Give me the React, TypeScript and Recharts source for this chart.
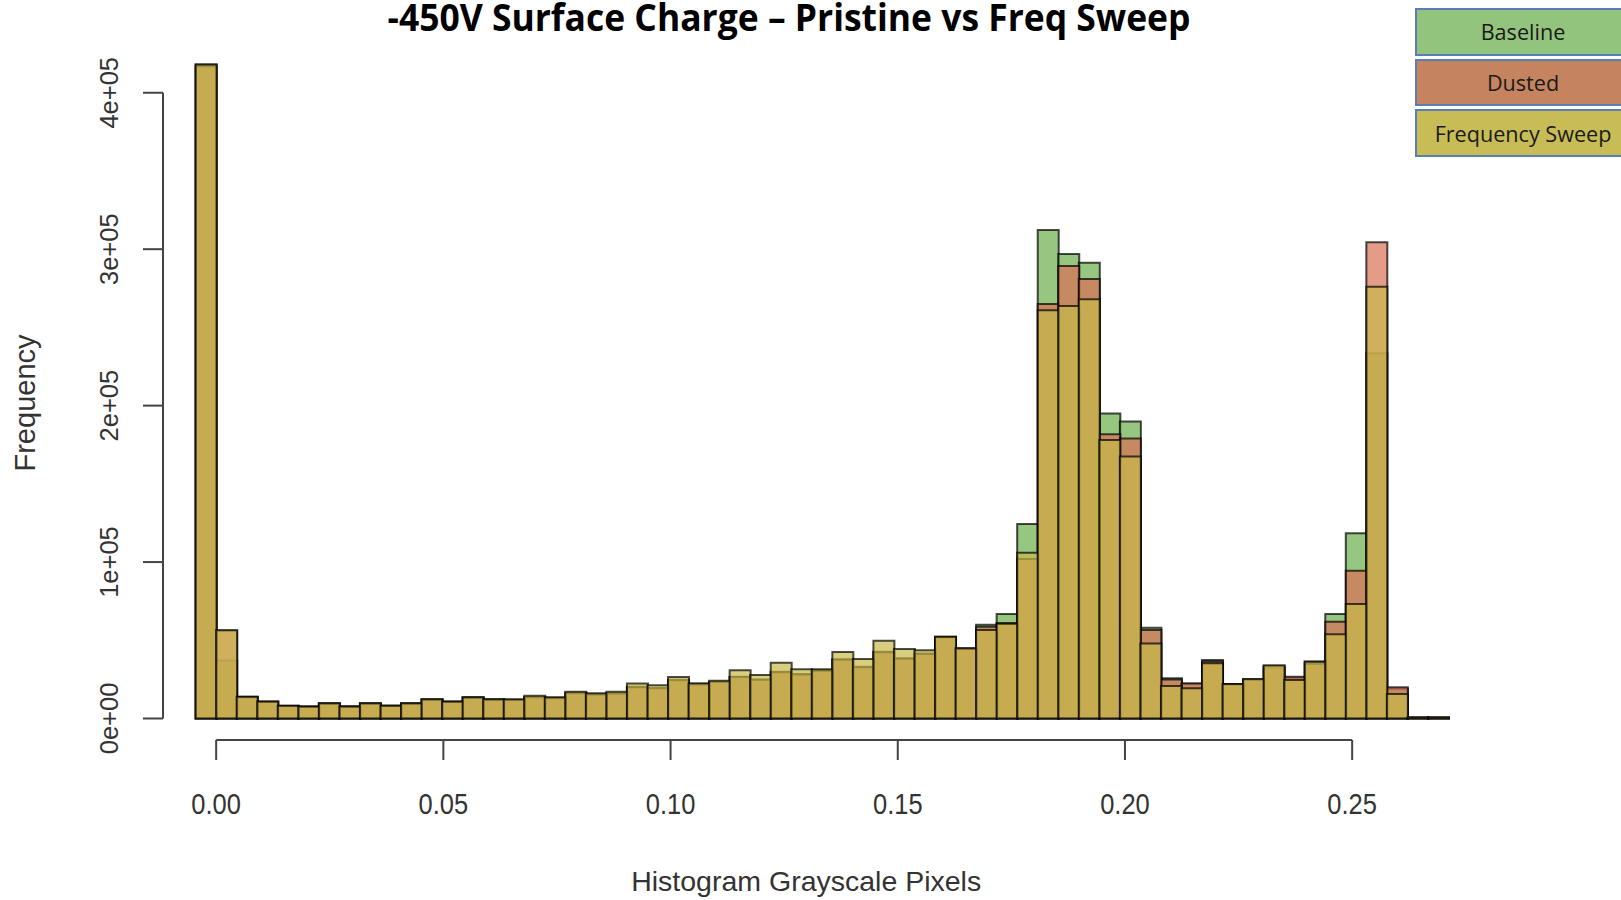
import React from 'react';
import { ComposedChart, Bar, XAxis, YAxis, ReferenceLine, Legend } from 'recharts';

// Histogram bin starts (bin width ~0.00452)
const binStarts = [
  -0.00452, 0, 0.00452, 0.00904, 0.01356, 0.01808, 0.0226, 0.02712, 0.03164, 0.03616, 0.04068,
  0.0452, 0.04972, 0.05424, 0.05876, 0.06328, 0.0678, 0.07232, 0.07684, 0.08136, 0.08588,
  0.0904, 0.09492, 0.09944, 0.10396, 0.10848, 0.113, 0.11752, 0.12204, 0.12656, 0.13108,
  0.1356, 0.14012, 0.14464, 0.14916, 0.15368, 0.1582, 0.16272, 0.16724, 0.17176, 0.17628,
  0.1808, 0.18532, 0.18984, 0.19436, 0.19888, 0.2034, 0.20792, 0.21244, 0.21696, 0.22148,
  0.226, 0.23052, 0.23504, 0.23956, 0.24408, 0.2486, 0.25312, 0.25764, 0.26216, 0.26668,
];
const binEnd = 0.2712;

const baseline = [
  418000, 37000, 13900, 10800, 8200, 7600, 9700, 7600, 9700, 8200, 9700,
  12300, 10800, 13500, 12300, 12000, 13800, 13200, 16500, 15500, 16100,
  20300, 19500, 24800, 22000, 23500, 26700, 25000, 29900, 28500, 30800,
  37800, 33000, 42700, 38500, 41500, 52300, 44900, 60000, 66800, 124400,
  312300, 297000, 291400, 195000, 189800, 58000, 25700, 22000, 37400, 22000,
  25000, 32500, 26000, 36500, 66800, 118400, 233500, 19000, 0, 0,
];
const dusted = [
  417000, 56000, 13500, 10600, 8000, 7500, 9500, 7600, 9500, 8200, 9400,
  12000, 10600, 13200, 12000, 11800, 13600, 13000, 16200, 15300, 16000,
  20000, 19300, 24500, 21800, 23300, 26500, 24800, 29500, 28200, 30500,
  37500, 32800, 42300, 38200, 41200, 52000, 44500, 58700, 61000, 102000,
  265000, 289300, 281000, 181700, 179000, 56600, 25000, 22500, 36500, 21800,
  24800, 33500, 26700, 35000, 61900, 94500, 304500, 19900, 0, 0,
];
const freqSweep = [
  418000, 56600, 13900, 10800, 8200, 7600, 9700, 7600, 9700, 8200, 9700,
  12300, 10800, 13500, 12300, 12300, 14600, 13500, 17100, 16100, 17100,
  22300, 21200, 26500, 22500, 24200, 30800, 27800, 35700, 31500, 31500,
  42500, 38000, 49700, 44400, 43600, 52300, 44900, 56600, 60500, 106000,
  261000, 263700, 268000, 178000, 167400, 48000, 20800, 19300, 35300, 22000,
  25300, 34000, 24600, 36300, 53800, 73200, 276000, 15700, 0, 0,
];

const xTicks = [0, 0.05, 0.1, 0.15, 0.2, 0.25];
const xTickLabels = ['0.00', '0.05', '0.10', '0.15', '0.20', '0.25'];
const yTicks = [0, 100000, 200000, 300000, 400000];
const yTickLabels = ['0e+00', '1e+05', '2e+05', '3e+05', '4e+05'];

const seriesNames = ['Baseline', 'Dusted', 'Frequency Sweep'];
const legendColors = ['#93C47D', '#C5845F', '#C7BC55'];

const data = binStarts.map((b, i) => ({
  bin: b,
  baseline: baseline[i],
  dusted: dusted[i],
  freq: freqSweep[i],
}));

// layout
const W = 1621;
const H = 900;
const margin = { top: 38, right: 171.6, bottom: 0, left: 0 };
const yAxisWidth = 163;
const plotW = W - margin.left - margin.right - yAxisWidth;
const xL = -0.0117;
const xR = 0.2714;
const yMin = -13750;
const yMax = 435000;
const padL = ((binStarts[0] - xL) / (xR - xL)) * plotW;
const padR = ((xR - binEnd) / (xR - xL)) * plotW;

const axisColor = '#444';
const textColor = '#333';
const font = '"Liberation Sans", Arial, sans-serif';

const XTick = (props: any) => {
  const { x, y, payload } = props;
  const idx = xTicks.findIndex((t) => Math.abs(t - payload.value) < 1e-9);
  return (
    <g transform={`translate(${x}, ${y + 52}) scale(1, 1.17)`}>
      <text x={0} y={0} textAnchor="middle" fontSize={25.5} fill={textColor} fontFamily={font}>
        {idx >= 0 ? xTickLabels[idx] : payload.value}
      </text>
    </g>
  );
};

const YTick = (props: any) => {
  const { x, y, payload } = props;
  const idx = yTicks.indexOf(payload.value);
  return (
    <text
      x={x}
      y={y}
      transform={`rotate(-90, ${x}, ${y})`}
      textAnchor="middle"
      fontSize={25.5}
      fill={textColor}
      fontFamily={font}
    >
      {idx >= 0 ? yTickLabels[idx] : payload.value}
    </text>
  );
};

const XLabel = (props: any) => {
  const { viewBox } = props;
  return (
    <text
      x={viewBox.x + viewBox.width / 2}
      y={viewBox.y + 151}
      textAnchor="middle"
      fontSize={28.5}
      fill={textColor}
      fontFamily={font}
    >
      Histogram Grayscale Pixels
    </text>
  );
};

const YLabel = (props: any) => {
  const { viewBox } = props;
  const cx = viewBox.x + 35;
  const cy = viewBox.y + viewBox.height / 2 + 14;
  return (
    <text
      x={cx}
      y={cy}
      transform={`rotate(-90, ${cx}, ${cy})`}
      textAnchor="middle"
      fontSize={29}
      fill={textColor}
      fontFamily={font}
    >
      Frequency
    </text>
  );
};

const renderLegend = (props: any) => {
  const payload = props.payload || [];
  return (
    <div>
      {payload.map((p: any, i: number) => {
        const idx = seriesNames.indexOf(p.value);
        return (
          <div
            key={p.value}
            style={{
              boxSizing: 'border-box',
              width: 216,
              height: 47.5,
              marginBottom: 3.2,
              background: legendColors[idx >= 0 ? idx : i],
              border: '2px solid #5B7DB5',
              display: 'flex',
              alignItems: 'center',
              justifyContent: 'center',
              fontFamily: '"Open Sans", sans-serif',
              fontSize: 21.6,
              color: '#1a1a1a',
            }}
          >
            {p.value}
          </div>
        );
      })}
    </div>
  );
};

const barStroke = { stroke: '#000', strokeOpacity: 0.7, strokeWidth: 2 };

export default function App() {
  return (
    <div
      style={{
        position: 'absolute',
        left: 0,
        top: 0,
        width: W,
        height: H,
        overflow: 'hidden',
        background: '#fff',
      }}
    >
      <ComposedChart width={W} height={H} data={data} margin={margin} barCategoryGap={0} barGap={0}>
        <XAxis
          xAxisId="num"
          dataKey="bin"
          type="number"
          domain={[xL, xR]}
          ticks={xTicks}
          allowDataOverflow
          height={H - 740 - margin.bottom}
          axisLine={false}
          tickLine={{ stroke: axisColor, strokeWidth: 2 }}
          tickSize={20}
          tick={<XTick />}
          label={<XLabel />}
        />
        <XAxis xAxisId="a" dataKey="bin" type="category" hide height={0} padding={{ left: padL, right: padR }} />
        <XAxis xAxisId="b" dataKey="bin" type="category" hide height={0} padding={{ left: padL, right: padR }} />
        <XAxis xAxisId="c" dataKey="bin" type="category" hide height={0} padding={{ left: padL, right: padR }} />
        <YAxis
          type="number"
          domain={[yMin, yMax]}
          ticks={yTicks}
          width={yAxisWidth}
          axisLine={false}
          tickLine={{ stroke: axisColor, strokeWidth: 2 }}
          tickSize={20}
          tickMargin={25}
          tick={<YTick />}
          label={<YLabel />}
        />
        <Bar
          xAxisId="a"
          dataKey="baseline"
          name={seriesNames[0]}
          fill="#69AE4A"
          fillOpacity={0.7}
          {...barStroke}
          minPointSize={1}
          isAnimationActive={false}
        />
        <Bar
          xAxisId="b"
          dataKey="dusted"
          name={seriesNames[1]}
          fill="#D87055"
          fillOpacity={0.7}
          {...barStroke}
          minPointSize={1}
          isAnimationActive={false}
        />
        <Bar
          xAxisId="c"
          dataKey="freq"
          name={seriesNames[2]}
          fill="#C7B94A"
          fillOpacity={0.7}
          {...barStroke}
          minPointSize={1}
          isAnimationActive={false}
        />
        <ReferenceLine
          xAxisId="num"
          segment={[{ x: xTicks[0], y: yMin }, { x: xTicks[xTicks.length - 1], y: yMin }]}
          stroke={axisColor}
          strokeWidth={2}
          ifOverflow="visible"
        />
        <ReferenceLine
          xAxisId="num"
          segment={[{ x: xL, y: yTicks[0] }, { x: xL, y: yTicks[yTicks.length - 1] }]}
          stroke={axisColor}
          strokeWidth={2}
          ifOverflow="visible"
        />
        <Legend
          layout="horizontal"
          verticalAlign="middle"
          align="center"
          content={renderLegend}
          wrapperStyle={{ position: 'absolute', left: 1415, top: 8, width: 216, height: 150 }}
        />
      </ComposedChart>
      <svg
        width={W}
        height={60}
        style={{ position: 'absolute', left: 0, top: 0, pointerEvents: 'none' }}
      >
        <text
          x={789}
          y={31}
          textAnchor="middle"
          fontFamily='"Open Sans", sans-serif'
          fontWeight={700}
          fontSize={37}
          textLength={803}
          lengthAdjust="spacingAndGlyphs"
          fill="#000"
        >
          -450V Surface Charge – Pristine vs Freq Sweep
        </text>
      </svg>
    </div>
  );
}
